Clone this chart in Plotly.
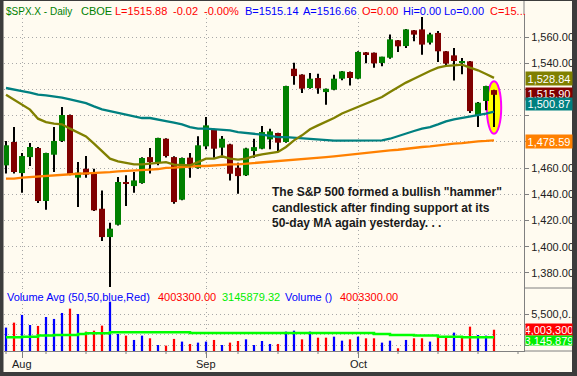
import pandas as pd
import plotly.graph_objects as go

# ---------------- data ----------------
holiday = pd.Timestamp("2007-09-03")
dates = pd.bdate_range("2007-07-30", "2007-10-24")
dates = dates[dates != holiday]

opens = [1462.1, 1479.9, 1456.2, 1468.4, 1475.3, 1434.9, 1470.2, 1480.7, 1500.5, 1452.7,
         1459.5, 1455.7, 1429.0, 1407.4, 1416.8, 1449.4, 1446.3, 1448.6, 1468.4, 1464.6,
         1482.4, 1468.4, 1435.9, 1468.0, 1460.1, 1476.6, 1489.6, 1475.6, 1478.1, 1460.3,
         1454.5, 1473.0, 1474.8, 1481.9, 1486.8, 1479.9, 1535.8, 1531.3, 1521.1, 1528.7,
         1518.0, 1519.8, 1528.2, 1533.3, 1528.2, 1548.3, 1548.0, 1540.2, 1544.2, 1557.5,
         1553.1, 1565.1, 1565.8, 1555.7, 1563.1, 1549.1, 1546.0, 1540.2, 1541.4, 1500.2,
         1511.2, 1519.5]
highs = [1480.7, 1491.3, 1471.5, 1479.1, 1476.1, 1471.8, 1491.3, 1506.6, 1500.8, 1464.6,
         1469.2, 1459.5, 1443.0, 1418.3, 1453.2, 1454.5, 1457.0, 1468.2, 1475.3, 1483.2,
         1482.7, 1469.0, 1468.0, 1471.5, 1484.2, 1499.0, 1490.1, 1484.5, 1478.6, 1464.1,
         1475.6, 1482.4, 1492.1, 1490.1, 1487.0, 1522.9, 1540.4, 1531.5, 1532.5, 1532.0,
         1520.8, 1531.3, 1534.1, 1533.6, 1549.1, 1548.6, 1548.2, 1545.0, 1562.0, 1557.7,
         1566.1, 1565.3, 1575.3, 1563.3, 1564.6, 1549.3, 1551.6, 1544.0, 1541.7, 1510.4,
         1522.9, 1519.8]
lows = [1455.8, 1455.8, 1441.2, 1461.6, 1433.4, 1428.3, 1457.0, 1479.9, 1454.5, 1430.3,
        1452.7, 1427.3, 1404.4, 1369.3, 1416.3, 1431.1, 1441.2, 1448.1, 1455.8, 1462.1,
        1468.0, 1432.9, 1435.4, 1452.7, 1459.5, 1474.3, 1467.9, 1467.9, 1450.6, 1440.5,
        1453.9, 1467.9, 1474.3, 1474.3, 1473.0, 1479.4, 1523.6, 1517.3, 1520.6, 1516.8,
        1508.4, 1519.3, 1527.0, 1523.1, 1527.7, 1539.9, 1536.6, 1537.6, 1543.5, 1548.6,
        1551.6, 1556.7, 1546.5, 1554.2, 1540.9, 1537.1, 1526.9, 1531.5, 1502.0, 1491.3,
        1504.1, 1491.3]
closes = [1477.4, 1457.0, 1469.2, 1476.1, 1434.9, 1471.5, 1480.7, 1500.5, 1455.2, 1456.5,
          1455.0, 1427.8, 1407.4, 1413.8, 1449.4, 1447.9, 1450.6, 1467.7, 1464.6, 1483.0,
          1469.2, 1434.1, 1467.7, 1460.8, 1477.4, 1492.6, 1474.8, 1482.4, 1455.7, 1453.9,
          1475.0, 1476.0, 1487.5, 1488.0, 1479.4, 1522.6, 1530.2, 1520.6, 1528.2, 1520.8,
          1520.5, 1528.2, 1533.8, 1528.7, 1548.6, 1547.0, 1539.9, 1545.0, 1558.2, 1552.9,
          1565.8, 1561.8, 1554.2, 1562.0, 1549.1, 1539.7, 1541.7, 1541.4, 1503.5, 1509.9,
          1522.6, 1515.9]

ma20 = [1516.0, 1512.4, 1508.4, 1504.6, 1497.7, 1495.1, 1493.9, 1493.4, 1490.1, 1487.0,
        1484.2, 1478.6, 1472.8, 1467.2, 1465.1, 1464.1, 1462.9, 1462.9, 1463.4, 1464.1,
        1464.6, 1462.6, 1462.1, 1462.1, 1464.6, 1467.2, 1467.2, 1469.0, 1467.2, 1466.4,
        1467.2, 1469.2, 1470.5, 1471.5, 1472.3, 1476.1, 1481.2, 1485.0, 1489.6, 1492.6,
        1495.1, 1498.2, 1501.7, 1504.1, 1506.6, 1509.1, 1511.7, 1514.2, 1518.0, 1521.9,
        1525.2, 1528.2, 1531.3, 1534.1, 1536.6, 1537.9, 1538.4, 1538.9, 1536.6, 1534.6,
        1531.8, 1528.84]
ma50 = [1521.1, 1520.1, 1518.8, 1517.5, 1516.0, 1515.5, 1514.7, 1513.7, 1512.4, 1510.9,
        1509.6, 1507.1, 1504.8, 1503.5, 1502.3, 1501.0, 1499.7, 1498.2, 1498.2, 1497.2,
        1495.9, 1494.6, 1493.4, 1491.3, 1490.1, 1490.1, 1489.6, 1489.6, 1488.8, 1487.5,
        1487.0, 1486.3, 1485.5, 1484.5, 1483.7, 1483.7, 1483.2, 1482.4, 1481.9, 1481.7,
        1481.2, 1480.9, 1480.9, 1480.9, 1480.9, 1480.9, 1481.2, 1481.2, 1482.4, 1484.5,
        1486.3, 1488.3, 1490.1, 1491.3, 1493.4, 1495.7, 1497.2, 1498.2, 1499.0, 1500.2,
        1501.5, 1503.0]
ma200 = [1451.9, 1451.9, 1452.7, 1453.2, 1453.7, 1453.9, 1454.5, 1455.0, 1455.2, 1455.7,
         1456.0, 1456.2, 1456.5, 1457.0, 1457.5, 1457.8, 1457.8, 1458.3, 1458.8, 1459.3,
         1460.1, 1460.3, 1460.8, 1461.3, 1461.6, 1461.6, 1462.1, 1462.6, 1462.9, 1462.9,
         1463.4, 1463.9, 1464.1, 1464.6, 1465.1, 1465.4, 1465.9, 1466.4, 1467.2, 1467.7,
         1468.4, 1469.0, 1469.7, 1470.2, 1471.0, 1471.5, 1472.3, 1472.8, 1473.5, 1474.0,
         1474.8, 1475.6, 1476.1, 1476.6, 1477.4, 1478.1, 1478.6, 1479.1, 1479.9, 1480.4,
         1480.7, 1481.2]

volume_m = [4.21, 4.69, 5.44, 4.46, 4.37, 5.24, 5.05, 5.63, 6.05, 5.53,
            3.82, 3.91, 4.40, 6.73, 3.59, 3.43, 3.01, 3.43, 3.17, 2.52,
            2.46, 3.11, 2.85, 2.62, 2.75, 2.85, 3.01, 2.52, 2.75, 2.91,
            3.07, 2.52, 2.91, 2.62, 2.62, 3.82, 3.91, 3.07, 3.82, 3.23,
            3.23, 3.33, 2.94, 3.07, 3.33, 3.17, 3.17, 2.75, 2.94, 2.20,
            3.01, 3.17, 3.17, 2.85, 3.33, 3.33, 3.72, 3.27, 4.30, 3.49,
            3.43, 4.0033]
vol_avg_m = [3.27, 3.27, 3.33, 3.33, 3.43, 3.43, 3.49, 3.49, 3.49, 3.59,
             3.66, 3.66, 3.66] + [3.75] * 10 + [3.68] * 23 + \
            [3.59, 3.59, 3.49, 3.49, 3.49, 3.43, 3.43, 3.43, 3.33, 3.33, 3.33] + [3.27] * 5

title_parts = [("$SPX.X - Daily", "#008000"), ("CBOE", "#008000"), ("L=1515.88", "#FF0000"),
               ("-0.02", "#FF0000"), ("-0.00%", "#FF0000"), ("B=1515.14", "#0000FF"),
               ("A=1516.66", "#0000FF"), ("O=0.00", "#FF0000"), ("Hi=0.00", "#0000FF"),
               ("Lo=0.00", "#0000FF"), ("C=15...", "#FF0000")]
vol_legend_parts = [("Volume Avg (50,50,blue,Red)", "#0000FF"), ("4003300.00", "#FF0000"),
                    ("3145879.32", "#00EE00"), ("Volume ()", "#0000FF"), ("4003300.00", "#FF0000")]
price_ticks = list(range(1380, 1561, 20))
price_hidden = [1500, 1520]  # labels covered by the value boxes in the reference
vol_ticks = [2.5e6, 3.5e6, 4.5e6, 5.5e6]
vol_ticktext = ["", "", "", "5,500,0..."]
price_labels = [("1,528.84", "#808000"), ("1,515.90", "#800000"),
                ("1,500.87", "#008080"), ("1,478.59", "#FF8000")]
vol_labels = [("4,003,300", "#FF0000"), ("3,145,879", "#00EE00")]
note = ('The S&P 500 formed a bullish "hammer"<br>candlestick after finding support at its'
        '<br>50-day MA again yesterday. . .')

# ---------------- derived ----------------
n = len(dates)
idx = list(range(n))
volume = [v * 1e6 for v in volume_m]
vol_avg = [v * 1e6 for v in vol_avg_m]
up_candle = [c >= o for o, c in zip(opens, closes)]
body_base = [min(o, c) for o, c in zip(opens, closes)]
body_h = [max(abs(c - o), 0.9) for o, c in zip(opens, closes)]
wick_h = [h - l for h, l in zip(highs, lows)]
vol_up = [True] + [closes[i] > closes[i - 1] for i in range(1, n)]
price_ticktext = ["" if t in price_hidden else f"{t:,.2f}" for t in price_ticks]

cal = pd.bdate_range("2007-07-30", "2007-10-31")
cal = cal[cal != holiday]
cal_pos = {d: i for i, d in enumerate(cal)}
week_first = pd.Series(cal, index=cal).groupby(cal.to_period("W")).min()
week_ticks = [cal_pos[d] for d in week_first]
month_first = pd.Series(cal, index=cal).groupby(cal.to_period("M")).min()
month_ticks = [cal_pos[d] for d in month_first if d.month in (8, 9, 10)]
month_text = [cal[i].strftime("%b") for i in month_ticks]

# ---------------- layout geometry (pixels) ----------------
W, H = 577, 376
PL, PR, PT, PB = 4, 524, 14, 351
SEP = 288


def xp(px):
    return (px - PL) / (PR - PL)


def yp(py):
    return (PB - py) / (PB - PT)


FONT = "Arial, Liberation Sans, sans-serif"
CREAM = "#FFFBF0"
DARK = "#3C3C3C"
AXC = "#808080"
GRID = "#A8A8A8"

fig = go.Figure()

# candles: wicks + bodies
fig.add_trace(go.Bar(x=idx, base=lows, y=wick_h, width=0.25, marker_color="#000000",
                     marker_line_width=0, xaxis="x", yaxis="y", hoverinfo="skip"))
fig.add_trace(go.Bar(x=idx, base=body_base, y=body_h, width=0.75,
                     marker_color=["#008000" if u else "#800000" for u in up_candle],
                     marker_line_width=0, xaxis="x", yaxis="y", hoverinfo="skip"))
# moving averages
for ser, col in [(ma200, "#FF8000"), (ma50, "#008080"), (ma20, "#808000")]:
    fig.add_trace(go.Scatter(x=idx, y=ser, mode="lines", line=dict(color=col, width=2.3),
                             xaxis="x", yaxis="y", hoverinfo="skip"))

# volume
fig.add_trace(go.Bar(x=idx, y=volume, width=0.28,
                     marker_color=["#0000FF" if u else "#FF0000" for u in vol_up],
                     marker_line_width=0, xaxis="x2", yaxis="y2", hoverinfo="skip"))
fig.add_trace(go.Scatter(x=idx, y=vol_avg, mode="lines", line=dict(color="#00FF00", width=2.5, shape="hv"),
                         xaxis="x2", yaxis="y2", hoverinfo="skip"))

# price / volume axis ranges from pixel calibration
p_per_px = 20 / 26.22
price_top = 1560 + (37 - PT) * p_per_px
price_bot = 1560 - (SEP - 37) * p_per_px
v_per_px = 1e6 / 10.3
vol_top = 5.5e6 + (314.3 - SEP) * v_per_px
vol_bot = 5.5e6 - (PB - 314.3) * v_per_px
x_lo = (PL - 6) / 8
x_hi = (PR - 6) / 8
vdom = (PB - SEP) / (PB - PT)

grid_common = dict(showgrid=True, gridcolor=GRID, griddash="1px,3px", gridwidth=1,
                   zeroline=False, automargin=False)

fig.update_layout(
    width=W, height=H, margin=dict(l=PL, r=W - PR, t=PT, b=H - PB, pad=0, autoexpand=False),
    paper_bgcolor=CREAM, plot_bgcolor=CREAM, showlegend=False, barmode="overlay",
    font=dict(family=FONT, size=11, color="#202020"),
    xaxis=dict(domain=[0, 1], range=[x_lo, x_hi], anchor="y", tickvals=month_ticks,
               showticklabels=False, ticks="", showline=False, **grid_common),
    xaxis2=dict(domain=[0, 1], range=[x_lo, x_hi], anchor="y2", matches="x", tickvals=month_ticks,
                showticklabels=False, ticks="outside", ticklen=6, tickcolor=AXC, tickwidth=1,
                showline=True, linecolor=AXC, linewidth=1, **grid_common),
    yaxis=dict(domain=[vdom, 1], range=[price_bot, price_top], side="right", anchor="x",
               tickvals=price_ticks, ticktext=price_ticktext, ticks="outside", ticklen=4, tickcolor=AXC,
               showline=True, linecolor=AXC, linewidth=1,
               tickfont=dict(size=11, color="#202020"), **grid_common),
    yaxis2=dict(domain=[0, vdom], range=[vol_bot, vol_top], side="right", anchor="x2",
                tickvals=vol_ticks, ticktext=vol_ticktext, ticks="outside", ticklen=4, tickcolor=AXC,
                showline=True, linecolor=AXC, linewidth=1,
                tickfont=dict(size=11, color="#202020"), **grid_common),
)

shapes = []
# hammer highlight ellipse
shapes.append(dict(type="circle", xref="x", yref="y", x0=n - 1.9, x1=n - 0.1,
                   y0=1486.2, y1=1526.2, fillcolor="#FFFF00",
                   line=dict(color="#FF00FF", width=2), layer="between"))
# weekly ticks
for t in week_ticks:
    shapes.append(dict(type="line", xref="x2", yref="paper", x0=t, x1=t, y0=0, y1=-3 / (PB - PT),
                       line=dict(color=AXC, width=1)))
# right-axis panel separator and extensions
shapes.append(dict(type="line", xref="paper", yref="paper", x0=xp(PR), x1=xp(572), y0=yp(SEP), y1=yp(SEP),
                   line=dict(color=AXC, width=1)))
shapes.append(dict(type="line", xref="paper", yref="paper", x0=xp(PR), x1=xp(572), y0=yp(PB), y1=yp(PB),
                   line=dict(color=AXC, width=1)))
shapes.append(dict(type="line", xref="paper", yref="paper", x0=xp(PR), x1=xp(PR), y0=yp(PT), y1=yp(1),
                   line=dict(color=AXC, width=1)))
# dark frame
for x0, x1, y0, y1 in [(0, 3.5, 0, H), (572, W, 0, H), (0, W, 372, H), (0, W, 0, 1)]:
    shapes.append(dict(type="rect", xref="paper", yref="paper", x0=xp(x0), x1=xp(x1),
                       y0=yp(y1), y1=yp(y0), fillcolor=DARK, line=dict(width=0), layer="above"))
fig.update_layout(shapes=shapes)

ann = []
title_x = [4.4, 79, 113.4, 171, 201.7, 243, 301, 360, 400.5, 441.7, 487.7]
title_size = [10] + [11] * 10
for (txt, col), px, fs in zip(title_parts, title_x, title_size):
    ann.append(dict(text=txt, x=xp(px), y=yp(11.5), xref="paper", yref="paper", xanchor="left",
                    yanchor="middle", showarrow=False, font=dict(size=fs, color=col, family=FONT)))
leg_x = [5, 156, 219.5, 283, 338]
for (txt, col), px in zip(vol_legend_parts, leg_x):
    ann.append(dict(text=txt, x=xp(px), y=yp(296.5), xref="paper", yref="paper", xanchor="left",
                    yanchor="middle", showarrow=False, font=dict(size=11, color=col, family=FONT)))
for t, txt in zip(month_ticks, month_text):
    ann.append(dict(text=txt, x=t, y=yp(364), xref="x2", yref="paper", xanchor="center",
                    yanchor="middle", showarrow=False, font=dict(size=11, color="#202020", family=FONT)))
for (txt, col), py, h in zip(price_labels, [78, 93.5, 104, 141.7], [13, 12, 12, 13]):
    ann.append(dict(text=txt, x=xp(548.5), y=yp(py), xref="paper", yref="paper", xanchor="center",
                    yanchor="middle", showarrow=False, bgcolor=col, width=46, height=h, borderpad=0,
                    font=dict(size=11, color="#FFFFFF", family=FONT)))
for (txt, col), py, h in zip(vol_labels, [329.7, 340], [11, 9]):
    ann.append(dict(text=txt, x=xp(548.5), y=yp(py), xref="paper", yref="paper", xanchor="center",
                    yanchor="middle", showarrow=False, bgcolor=col, width=46, height=h, borderpad=0,
                    font=dict(size=11, color="#FFFFFF", family=FONT)))
ann.append(dict(text="<b>" + note + "</b>", x=xp(270), y=yp(207.7), xref="paper", yref="paper",
                xanchor="left", yanchor="middle", align="left", showarrow=False,
                font=dict(size=12, color="#1A1A1A", family=FONT)))
fig.update_layout(annotations=ann)

fig.write_html("out.html", config={"displayModeBar": False},
               post_script="document.body.style.margin='0px';document.body.style.overflow='hidden';")
